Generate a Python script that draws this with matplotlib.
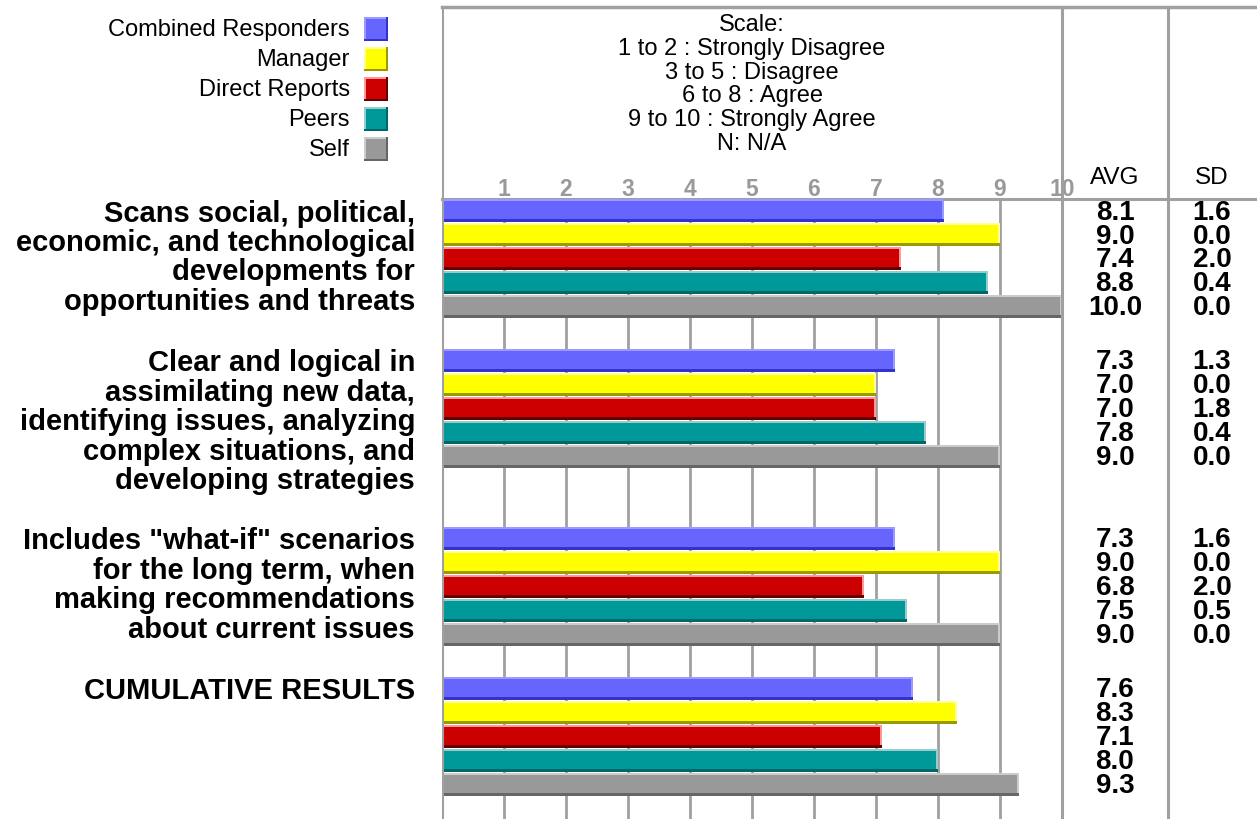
import matplotlib.pyplot as plt

plt.rcParams['font.family'] = ['Liberation Sans', 'DejaVu Sans']

# rater groups, in drawing order
series = ["Combined Responders", "Manager", "Direct Reports", "Peers", "Self"]
colors = ["#6666ff", "#ffff00", "#cc0000", "#009999", "#999999"]
light = ["#9999ff", "#ffff99", "#ff9999", "#99cccc", "#cccccc"]
dark = ["#3333cc", "#999900", "#660000", "#006666", "#666666"]

items = [
    ["Scans social, political,", "economic, and technological",
     "developments for", "opportunities and threats"],
    ["Clear and logical in", "assimilating new data,",
     "identifying issues, analyzing", "complex situations, and",
     "developing strategies"],
    ["Includes \"what-if\" scenarios", "for the long term, when",
     "making recommendations", "about current issues"],
    ["CUMULATIVE RESULTS"],
]
avg = [
    [8.1, 9.0, 7.4, 8.8, 10.0],
    [7.3, 7.0, 7.0, 7.8, 9.0],
    [7.3, 9.0, 6.8, 7.5, 9.0],
    [7.6, 8.3, 7.1, 8.0, 9.3],
]
sd = [
    [1.6, 0.0, 2.0, 0.4, 0.0],
    [1.3, 0.0, 1.8, 0.4, 0.0],
    [1.6, 0.0, 2.0, 0.5, 0.0],
    None,
]
scale_lines = ["Scale:", "1 to 2 : Strongly Disagree", "3 to 5 : Disagree",
               "6 to 8 : Agree", "9 to 10 : Strongly Agree", "N: N/A"]
ticks = list(range(1, 11))

# page layout in pixels
W, H = 1257, 820
X0, UNIT = 442, 62          # left edge of the scale and pixels per point
group_tops = [200, 350, 528, 678]
PITCH, BAR_H = 24, 23
AVG_X, SD_X = 1115, 1212
LINE = "#a0a0a0"

fig = plt.figure(figsize=(W / 100, H / 100), dpi=100)
bg = fig.add_axes([0, 0, 1, 1])
bg.set_xlim(0, W)
bg.set_ylim(H, 0)
bg.axis('off')

ax = fig.add_axes([X0 / W, 0, (W - X0) / W, 1], zorder=2)
ax.set_xlim(0, (W - X0) / UNIT)
ax.set_ylim(H, 0)
ax.axis('off')
ax.patch.set_alpha(0)

# legend
for i, name in enumerate(series):
    y = 30 + 30 * i
    bg.text(350, y, name, ha='right', va='center', fontsize=17)
    bg.add_patch(plt.Rectangle((364, y - 12), 24, 24, color=dark[i], lw=0))
    bg.add_patch(plt.Rectangle((364, y - 12), 22, 22, color=light[i], lw=0))
    bg.add_patch(plt.Rectangle((366, y - 10), 20, 20, color=colors[i], lw=0))

# scale legend
for k, s in enumerate(scale_lines):
    bg.text(752, 25 + 23.8 * k, s, ha='center', va='center', fontsize=17)

bg.text(AVG_X, 178, "AVG", ha='center', va='center', fontsize=17.5)
bg.text(SD_X, 178, "SD", ha='center', va='center', fontsize=17.5)

# grid and tick labels
ax.vlines(ticks[:-1], 200, H, color=LINE, lw=2, zorder=0)
for t in ticks:
    ax.text(t, 189, str(t), ha='center', va='center', color="#999999",
            fontsize=16.5, fontweight='bold')

# bars
for g, top in enumerate(group_tops):
    for i, v in enumerate(avg[g]):
        yc = top + BAR_H / 2 + PITCH * i
        ax.barh(yc, v, height=BAR_H, color=colors[i], lw=0, zorder=1)
        ax.barh(yc - BAR_H / 2 + 1, v, height=2, color=light[i], lw=0, zorder=1)
        ax.barh(yc - 0.5, 2 / UNIT, left=v - 2 / UNIT, height=BAR_H - 2,
                color=light[i], lw=0, zorder=1)
        ax.barh(yc + BAR_H / 2 - 1.5, v, height=3, color=dark[i], lw=0, zorder=1)
        bg.text(AVG_X, yc + 1, f"{v:.1f}", ha='center', va='center',
                fontsize=20, fontweight='bold')
        if sd[g] is not None:
            bg.text(SD_X, yc + 1, f"{sd[g][i]:.1f}", ha='center', va='center',
                    fontsize=20, fontweight='bold')
    first = top + BAR_H / 2 + 2
    for k, line in enumerate(items[g]):
        bg.text(415, first + 29.5 * k, line, ha='right', va='center',
                fontsize=21, fontweight='bold')

# frame lines
ax.plot([0, 0], [8, H], color=LINE, lw=2.2, zorder=3)
ax.plot([10, 10], [8, H], color=LINE, lw=2.2, zorder=3)
bg.plot([X0, W], [8, 8], color=LINE, lw=2.5)
bg.plot([X0, W], [200, 200], color=LINE, lw=2.2)
bg.plot([1168, 1168], [8, H], color=LINE, lw=2.2)

fig.savefig("out.png", dpi=100)
